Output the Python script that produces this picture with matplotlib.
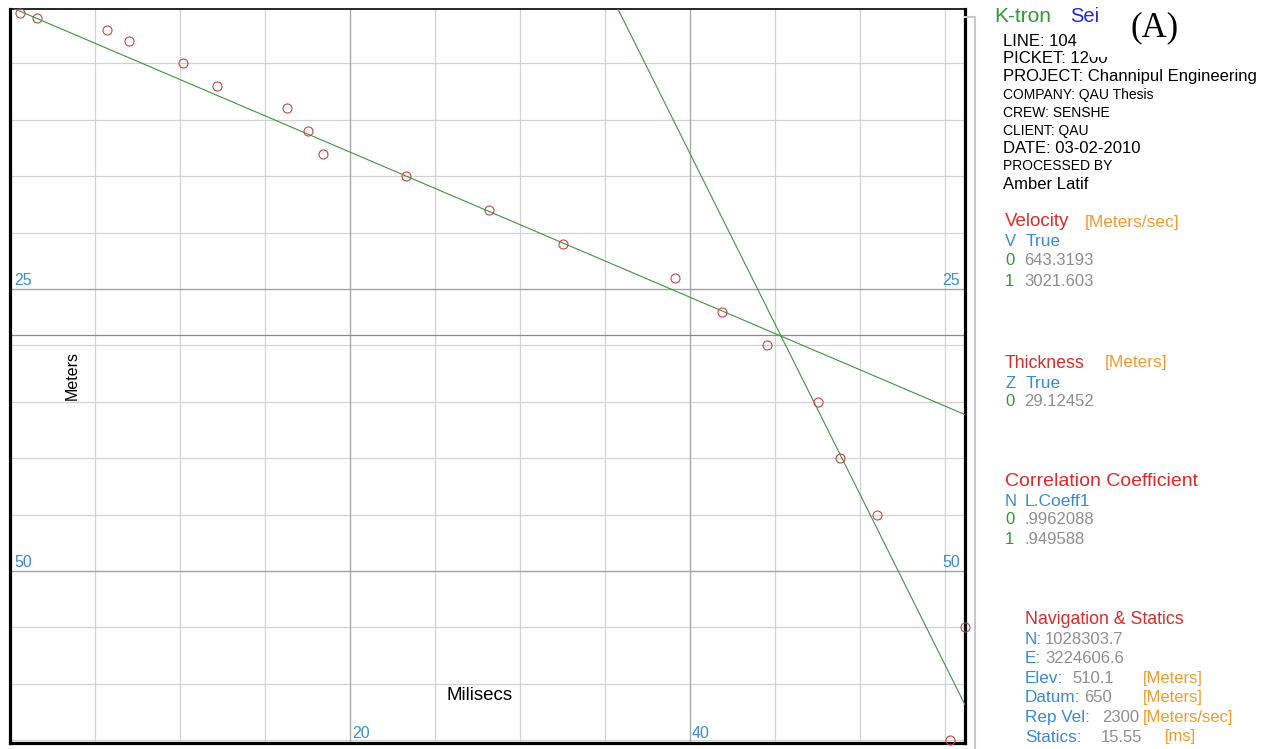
import numpy as np
import matplotlib
matplotlib.use("Agg")
import matplotlib.pyplot as plt
from matplotlib import font_manager
from matplotlib.lines import Line2D
from matplotlib.patches import Rectangle

# picked travel-time points (milisecs vs meters)
time_ms = [0.6, 1.6, 5.7, 7.0, 10.2, 12.2, 16.3, 17.5, 18.4, 23.3,
           28.2, 32.5, 39.1, 41.9, 44.5, 47.5, 48.8, 51.0, 56.2, 55.3]
depth_m = [0.5, 1, 2, 3, 5, 7, 9, 11, 13, 15,
           18, 21, 24, 27, 30, 35, 40, 45, 55, 65]

# fitted layers
velocities = [643.3193, 3021.603]      # m/s
velocity_text = ["643.3193", "3021.603"]
intercepts_ms = [0.0, 35.7]            # time where each fit line reaches 0 m
thickness = 29.12452
coeffs = [".9962088", ".949588"]

x_labels = [20, 40]
y_labels = [25, 50]

header = [
    ("LINE: 104", False),
    ("PICKET: 1200", False),
    ("PROJECT: Channipul Engineering", False),
    ("COMPANY: QAU Thesis", True),
    ("CREW: SENSHE", True),
    ("CLIENT: QAU", True),
    ("DATE: 03-02-2010", False),
    ("PROCESSED BY", True),
    ("Amber Latif", False),
]
nav_labels = ["N:", "E:", "Elev:", "Datum:", "Rep Vel:", "Statics:"]
nav_values = ["1028303.7", "3224606.6", "510.1", "650", "2300", "15.55"]
nav_units = ["", "", "[Meters]", "[Meters]", "[Meters/sec]", "[ms]"]

W, H = 1268, 749
RED = "#dd2a2a"
ORANGE = "#f29b2e"
BLUE = "#3a8ad0"
GREEN = "#2f9a2f"
GREY = "#8e8e8e"
TICKBLUE = "#3c8dcc"

names = {f.name for f in font_manager.fontManager.ttflist}
has_narrow = "Liberation Sans Narrow" in names
narrow = "Liberation Sans Narrow" if has_narrow else "Liberation Sans"
plt.rcParams["font.family"] = ["Liberation Sans", "DejaVu Sans"]

fig = plt.figure(figsize=(W / 100, H / 100), dpi=100)
ax = fig.add_axes([10 / W, (H - 743) / H, 955 / W, 734 / H])

xmax = 955 / 17.0
ytop, ybot = 0.18, 65.25
ax.set_xlim(0, xmax)
ax.set_ylim(ybot, ytop)

ax.set_xticks(np.arange(5, 60, 5))
ax.set_yticks(np.arange(5, 70, 5))
ax.tick_params(length=0, labelbottom=False, labelleft=False)
ax.grid(True, color="#d2d2d2", lw=0.9)
ax.set_axisbelow(True)
for v in x_labels:
    ax.axvline(v, color="#a8a8a8", lw=0.9, zorder=1)
for v in y_labels:
    ax.axhline(v, color="#a0a0a0", lw=0.9, zorder=1)
ax.axhline(thickness, color="#8a8a8a", lw=0.9, zorder=1)

for side in ["left", "bottom", "right"]:
    ax.spines[side].set_linewidth(2.3)
ax.spines["top"].set_linewidth(1.2)

# fit lines
t = np.array([0, xmax])
for v, t0 in zip(velocities, intercepts_ms):
    ax.plot(t, v / 1000.0 * (t - t0), color="#3f933f", lw=0.8, zorder=3)

ax.plot(time_ms, depth_m, "o", mfc="none", mec="#c24848", ms=6.5, mew=0.8,
        zorder=4, clip_on=False)

for v in y_labels:
    ax.annotate(str(v), xy=(0, v), xytext=(4, 4), textcoords="offset pixels",
                color=TICKBLUE, fontsize=11.5, va="baseline", ha="left")
    ax.annotate(str(v), xy=(xmax, v), xytext=(-5, 4), textcoords="offset pixels",
                color=TICKBLUE, fontsize=11.5, va="baseline", ha="right")
for v in x_labels:
    ax.annotate(str(v), xy=(v, ybot), xytext=(2, 5), textcoords="offset pixels",
                color=TICKBLUE, fontsize=11.5, va="baseline", ha="left")

ax.text(62 / 955, 1 - (376 - 9) / 734, "Meters", transform=ax.transAxes,
        rotation=90, fontsize=11.5, ha="center", va="center")
ax.text((480 - 10) / 955, 1 - (695 - 9) / 734, "Milisecs", transform=ax.transAxes,
        fontsize=13.5, ha="center", va="center")

# shadow frame right of the plot
fig.add_artist(Line2D([965 / W, 975 / W, 975 / W], [1 - 17 / H, 1 - 17 / H, 0],
                      transform=fig.transFigure, color="#c8c8c8", lw=1.5))


def put(x, y, s, color="black", size=12, **kw):
    kw.setdefault("zorder", 3)
    fig.text(x / W, 1 - y / H, s, color=color, fontsize=size,
             ha="left", va="center", **kw)


for i, (line, small) in enumerate(header):
    y = 41 + i * 17.9
    if small:
        put(1003, y, line, "black", 11 if has_narrow else 10, family=narrow, zorder=1)
    else:
        put(1003, y, line, "black", 12, zorder=1)

# the (A) label sits on a white patch that hides the top of the picket number
fig.add_artist(Rectangle((1090 / W, 1 - 57 / H), 110 / W, 57 / H,
                         transform=fig.transFigure, facecolor="white",
                         edgecolor="none", zorder=2))
put(994, 16, "K-tron", GREEN, 15)
put(1070, 16, "Sei", "#2a2ac8", 14.5)
put(1130, 28, "(A)", "black", 25, family="Liberation Serif")

put(1005, 222, "Velocity", RED, 13.5)
put(1085, 222, "[Meters/sec]", ORANGE, 12.5)
put(1005, 241, "V", BLUE, 12)
put(1026, 241, "True", BLUE, 12.5)
for i, s in enumerate(velocity_text):
    put(1005, 261 + i * 20, str(i), GREEN, 12)
    put(1024, 261 + i * 20, s, GREY, 12)

put(1005, 363, "Thickness", RED, 12.8)
put(1105, 363, "[Meters]", ORANGE, 12.5)
put(1005, 383, "Z", BLUE, 12)
put(1026, 383, "True", BLUE, 12.5)
put(1005, 402, "0", GREEN, 12)
put(1024, 402, f"{thickness:.5f}", GREY, 12)

put(1005, 481, "Correlation Coefficient", RED, 14)
put(1005, 501, "N", BLUE, 12)
put(1025, 501, "L.Coeff1", BLUE, 12.5)
for i, c in enumerate(coeffs):
    put(1005, 520 + i * 19.5, str(i), GREEN, 12)
    put(1024, 520 + i * 19.5, c, GREY, 12)

put(1025, 620, "Navigation & Statics", RED, 12.8)
val_x = [1045, 1045, 1072, 1084, 1102, 1101]
unit_x = [0, 0, 1143, 1143, 1143, 1165]
for i, (lab, val, unit) in enumerate(zip(nav_labels, nav_values, nav_units)):
    y = 639 + i * 19.6
    put(1025, y, lab, BLUE, 12.3)
    put(val_x[i], y, val, GREY, 12)
    if unit:
        put(unit_x[i], y, unit, ORANGE, 12)

fig.savefig("out.png", dpi=100, facecolor="white")
